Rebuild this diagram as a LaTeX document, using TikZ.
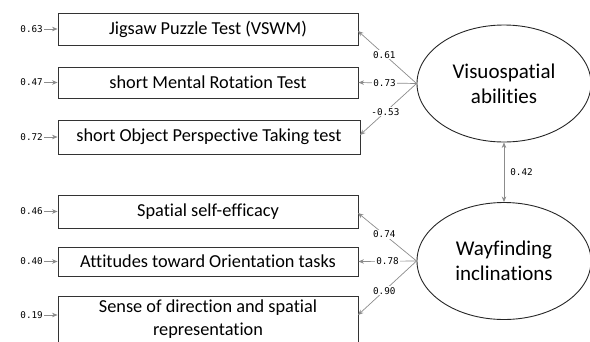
\documentclass[tikz,border=0pt]{standalone}
\usepackage{fontspec}
\setmainfont[Ligatures={NoCommon}]{Carlito}
\newfontfamily\monof{DejaVu Sans Mono}
\usetikzlibrary{arrows.meta,shapes.geometric}
\begin{document}
\begin{tikzpicture}[x=1pt,y=-1pt,
  ind/.style={draw=black!80,line width=0.9pt,minimum width=300pt,inner sep=0pt,font=\fontsize{18.3}{22}\selectfont,align=center},
  lat/.style={draw=black!85,ellipse,line width=0.9pt,minimum width=174pt,minimum height=117pt,inner sep=0pt,font=\fontsize{21}{25}\selectfont,align=center},
  err/.style={font=\monof\fontsize{9.3}{11}\selectfont,inner sep=1pt,anchor=east},
  lbl/.style={font=\monof\fontsize{9.3}{11}\selectfont,inner sep=1pt,fill=white},
  arr/.style={draw=black!45,line width=0.7pt,-{Stealth[length=5.5pt,width=4.5pt]}},
  darr/.style={draw=black!45,line width=0.7pt,{Stealth[length=5.5pt,width=4.5pt]}-{Stealth[length=5.5pt,width=4.5pt]}}]
\useasboundingbox (0,0) rectangle (590,341);
\clip (0,0) rectangle (590,341);
% indicator boxes
\node[ind,minimum height=32pt] (b1) at (208,29) {Jigsaw Puzzle Test (VSWM)};
\node[ind,minimum height=31pt] (b2) at (208,82.5) {short Mental Rotation Test};
\node[ind,minimum height=34pt,minimum width=302pt] (b3) at (209,137) {short Object Perspective Taking test};
\node[ind,minimum height=33pt] (b4) at (208,211.5) {Spatial self-efficacy};
\node[ind,minimum height=29pt] (b5) at (208,261.5) {Attitudes toward Orientation tasks};
\node[ind,minimum height=60pt] (b6) at (208,326) {};
\node[font=\fontsize{18.3}{23}\selectfont,align=center,inner sep=0pt] (b6t) at (208,319.5) {Sense of direction and spatial\\representation};
% latent variables
\node[lat] (v) at (504,83.5) {Visuospatial\\abilities};
\node[lat] (w) at (504,261) {Wayfinding\\inclinations};
% error terms
\node[err] (e1) at (44,29) {0.63};
\node[err] (e2) at (44,82.5) {0.47};
\node[err] (e3) at (44,137) {0.72};
\node[err] (e4) at (44,211.5) {0.46};
\node[err] (e5) at (44,261.5) {0.40};
\node[err] (e6) at (44,315) {0.19};
\draw[arr] (e1.east) -- (b1.west);
\draw[arr] (e2.east) -- (b2.west);
\draw[arr] (e3.east) -- (b3.west);
\draw[arr] (e4.east) -- (b4.west);
\draw[arr] (e5.east) -- (b5.west);
\draw[arr] (e6.east) -- (b6.west |- e6.east);
% loadings
\coordinate (vl) at (v.west);
\coordinate (wl) at (w.west);
\coordinate (t1) at (358,31);
\coordinate (t3) at (360,135);
\coordinate (t4) at (358,213);
\coordinate (t6) at (358,315);
\draw[arr] (vl) -- node[lbl,pos=0.55] {0.61} (t1);
\draw[arr] (vl) -- node[lbl,pos=0.55] {0.73} (b2.east);
\draw[arr] (vl) -- node[lbl,pos=0.55] {-0.53} (t3);
\draw[arr] (wl) -- node[lbl,pos=0.55] {0.74} (t4);
\draw[arr] (wl) -- node[lbl,pos=0.5] {0.78} (b5.east);
\draw[arr] (wl) -- node[lbl,pos=0.55] {0.90} (t6);
% covariance
\draw[darr] (v.south) -- node[lbl,right,fill=none,xshift=5pt] {0.42} (w.north);
\end{tikzpicture}
\end{document}
